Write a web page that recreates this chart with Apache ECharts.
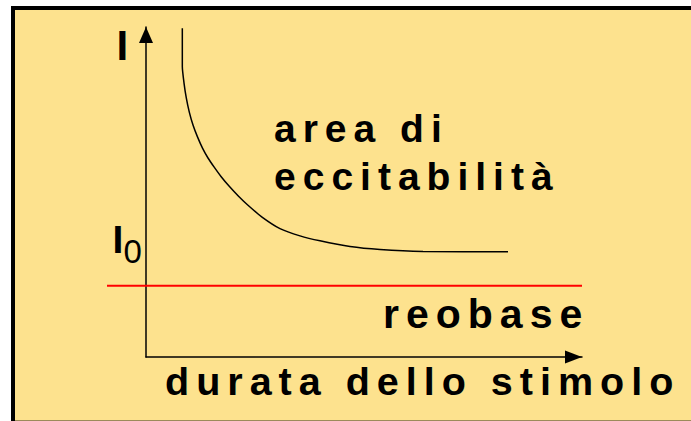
<!DOCTYPE html>
<html>
<head>
<meta charset="utf-8">
<script src="https://cdn.jsdelivr.net/npm/echarts@6/dist/echarts.min.js"></script>
<style>
  html, body { margin: 0; padding: 0; background: #fff; }
  #chart { width: 691px; height: 421px; }
  /* spaced lettering for the captions */
  #chart text { letter-spacing: 7px; }
  /* the axis symbols (font stack ending in Helvetica) stay unspaced */
  #chart text[style*="Helvetica"] { letter-spacing: 0; }
</style>
</head>
<body>
<div id="chart"></div>
<script>
// strength–duration curve: stimulus duration (x) vs. intensity (y)
const durata = [8.33, 8.33, 8.72, 9.24, 9.93, 10.78, 11.81, 12.96, 14.22, 15.60, 17.20, 19.04, 21.17, 23.46, 26.61, 30.73, 35.32, 39.91, 46.79, 53.67, 63.53, 83.03];
const intensita = [99.6, 88.0, 83.0, 78.5, 74.2, 70.3, 66.7, 63.3, 60.3, 57.6, 54.7, 51.8, 48.8, 45.9, 42.4, 38.9, 36.7, 35.2, 33.5, 32.6, 32.0, 31.9];

// rheobase level and the horizontal span of its line (it starts left of the I axis)
const reobase = 21.6;
const reobaseX = [-8.94, 100];

const FONT = '"Liberation Sans", Arial, sans-serif';
const SYMBOL_FONT = '"Liberation Sans", Arial, Helvetica';
const BG = '#fde28e';

const chart = echarts.init(document.getElementById('chart'), null, { renderer: 'svg' });

function label(text, x, baseline, size, weight, family) {
  // y is the central baseline used by the svg renderer
  return {
    type: 'text',
    z: 10,
    silent: true,
    style: {
      text: text,
      x: x,
      y: baseline - 0.3465 * size,
      font: (weight || 'bold') + ' ' + size + 'px ' + (family || FONT),
      fill: '#000',
      align: 'left',
      verticalAlign: 'middle',
      textAlign: 'left',
      textVerticalAlign: 'middle'
    }
  };
}

const hiddenAxis = {
  axisLine: { show: false },
  axisTick: { show: false },
  axisLabel: { show: false },
  splitLine: { show: false }
};

chart.setOption({
  backgroundColor: '#fff',
  animation: false,
  grid: [
    { left: 146, right: 109, top: 27, bottom: 64 },
    // same vertical scale, widened to the left for the rheobase line
    { left: 107, right: 109, top: 27, bottom: 64 }
  ],
  xAxis: [
    {
      type: 'value',
      gridIndex: 0,
      min: 0,
      max: 100,
      axisLine: {
        onZero: false,
        lineStyle: { color: '#000', width: 1.5 },
        symbol: ['none', 'triangle'],
        symbolSize: [13, 17],
        symbolOffset: [0, -8.5]
      },
      axisTick: { show: false },
      axisLabel: { show: false },
      splitLine: { show: false }
    },
    Object.assign({ type: 'value', gridIndex: 1, min: -8.94, max: 100 }, hiddenAxis)
  ],
  yAxis: [
    {
      type: 'value',
      gridIndex: 0,
      min: 0,
      max: 100,
      axisLine: {
        show: true,
        onZero: false,
        lineStyle: { color: '#000', width: 1.5 },
        symbol: ['none', 'triangle'],
        symbolSize: [14, 16],
        symbolOffset: [0, -8]
      },
      axisTick: { show: false },
      axisLabel: { show: false },
      splitLine: { show: false }
    },
    Object.assign({ type: 'value', gridIndex: 1, min: 0, max: 100 }, hiddenAxis)
  ],
  graphic: [
    // frame and panel
    { type: 'rect', z: -2, silent: true, shape: { x: 11, y: 6, width: 680, height: 415 }, style: { fill: '#000' } },
    { type: 'rect', z: -1, silent: true, shape: { x: 15, y: 10, width: 676, height: 410 }, style: { fill: BG } },
    { type: 'line', z: -1, silent: true, shape: { x1: 15, y1: 420.5, x2: 691, y2: 420.5 }, style: { stroke: '#9c8b5a', lineWidth: 1 } },
    // axis symbols
    label('I', 116.6, 60, 42, 'bold', SYMBOL_FONT),
    label('I', 112.5, 253.3, 39, 'bold', SYMBOL_FONT),
    label('0', 123.4, 263.3, 33, 'normal', SYMBOL_FONT),
    // captions
    label('area di', 274, 141.7, 39),
    label('eccitabilità', 274, 190, 39),
    label('reobase', 383, 328.3, 41),
    label('durata dello stimolo', 165, 395, 39.5)
  ],
  series: [
    {
      name: 'reobase',
      type: 'line',
      xAxisIndex: 1,
      yAxisIndex: 1,
      data: reobaseX.map(x => [x, reobase]),
      showSymbol: false,
      lineStyle: { color: '#ff0000', width: 2 }
    },
    {
      name: 'curva',
      type: 'line',
      xAxisIndex: 0,
      yAxisIndex: 0,
      data: durata.map((d, i) => [d, intensita[i]]),
      showSymbol: false,
      smooth: 0.2,
      clip: false,
      lineStyle: { color: '#000', width: 1.5 }
    }
  ]
});
</script>
</body>
</html>
